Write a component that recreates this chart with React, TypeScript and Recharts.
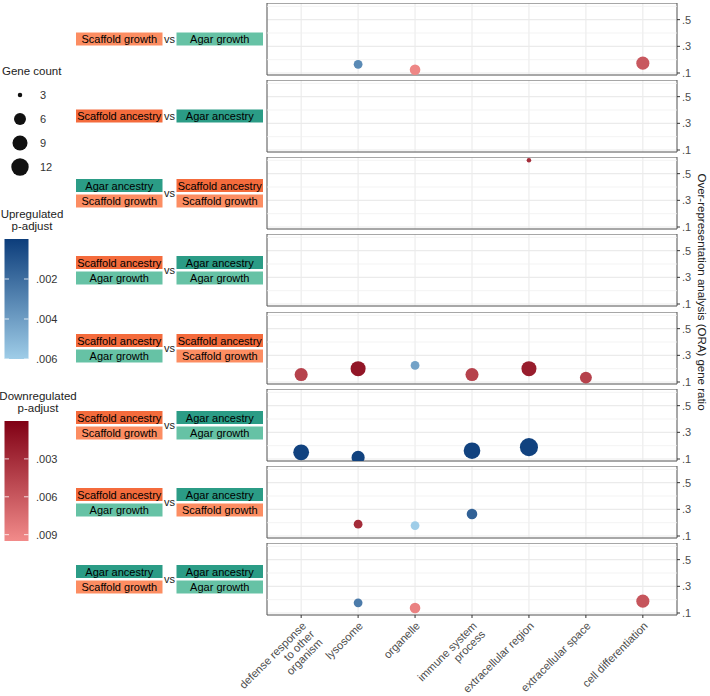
import React from "react";
import {
  CartesianGrid,
  ReferenceArea,
  ReferenceLine,
  Scatter,
  ScatterChart,
  XAxis,
  YAxis,
} from "recharts";

// GO terms on the x axis ("\n" marks a wrapped label line)
const TERMS = [
  "defense response\nto other\norganism",
  "lysosome",
  "organelle",
  "immune system\nprocess",
  "extracellular region",
  "extracellular space",
  "cell differentiation",
];

const RATIO_DOMAIN = [0.085, 0.625];
const RATIO_TICKS = [0.1, 0.3, 0.5];
const RATIO_MINOR = [0.2, 0.4, 0.6];

const COUNT_BREAKS = [3, 6, 9, 12];
const UP_PADJ_TICKS = [0.002, 0.004, 0.006];
const UP_PADJ_MAX = 0.006;
const DOWN_PADJ_TICKS = [0.003, 0.006, 0.009];
const DOWN_PADJ_MAX = 0.0095;

type Dir = "up" | "down";
type Pt = { term: number; ratio: number; count: number; dir: Dir; padj: number };

// one entry per row: [left group, right group]
const COMPARISONS: string[][][] = [
  [["Scaffold growth"], ["Agar growth"]],
  [["Scaffold ancestry"], ["Agar ancestry"]],
  [["Agar ancestry", "Scaffold growth"], ["Scaffold ancestry", "Scaffold growth"]],
  [["Scaffold ancestry", "Agar growth"], ["Agar ancestry", "Agar growth"]],
  [["Scaffold ancestry", "Agar growth"], ["Scaffold ancestry", "Scaffold growth"]],
  [["Scaffold ancestry", "Scaffold growth"], ["Agar ancestry", "Agar growth"]],
  [["Scaffold ancestry", "Agar growth"], ["Agar ancestry", "Scaffold growth"]],
  [["Agar ancestry", "Scaffold growth"], ["Agar ancestry", "Agar growth"]],
];

const ROW1: Pt[] = [
  { term: 1, ratio: 0.165, count: 4, dir: "up", padj: 0.0032 },
  { term: 2, ratio: 0.124, count: 5, dir: "down", padj: 0.0092 },
  { term: 6, ratio: 0.174, count: 7, dir: "down", padj: 0.006 },
];
const ROW2: Pt[] = [];
const ROW3: Pt[] = [{ term: 4, ratio: 0.6, count: 3, dir: "down", padj: 0.003 }];
const ROW4: Pt[] = [];
const ROW5: Pt[] = [
  { term: 0, ratio: 0.156, count: 7, dir: "down", padj: 0.0045 },
  { term: 1, ratio: 0.2, count: 9, dir: "down", padj: 0.0015 },
  { term: 2, ratio: 0.224, count: 4, dir: "up", padj: 0.0042 },
  { term: 3, ratio: 0.156, count: 7, dir: "down", padj: 0.0045 },
  { term: 4, ratio: 0.2, count: 9, dir: "down", padj: 0.002 },
  { term: 5, ratio: 0.133, count: 6, dir: "down", padj: 0.0045 },
];
const ROW6: Pt[] = [
  { term: 0, ratio: 0.15, count: 10, dir: "up", padj: 0.0002 },
  { term: 1, ratio: 0.112, count: 7, dir: "up", padj: 0.0002 },
  { term: 3, ratio: 0.162, count: 11, dir: "up", padj: 0.0002 },
  { term: 4, ratio: 0.189, count: 13, dir: "up", padj: 0.0002 },
];
const ROW7: Pt[] = [
  { term: 1, ratio: 0.189, count: 4, dir: "down", padj: 0.003 },
  { term: 2, ratio: 0.178, count: 4, dir: "up", padj: 0.006 },
  { term: 3, ratio: 0.265, count: 5, dir: "up", padj: 0.0015 },
];
const ROW8: Pt[] = [
  { term: 1, ratio: 0.176, count: 4, dir: "up", padj: 0.0026 },
  { term: 2, ratio: 0.137, count: 5, dir: "down", padj: 0.0088 },
  { term: 6, ratio: 0.189, count: 7, dir: "down", padj: 0.0058 },
];

const ROWS = [ROW1, ROW2, ROW3, ROW4, ROW5, ROW6, ROW7, ROW8];

const GROUP_FILL: Record<string, string> = {
  "Scaffold growth": "#fc8d62",
  "Agar growth": "#66c2a5",
  "Scaffold ancestry": "#f46b3c",
  "Agar ancestry": "#2b9c86",
};

const UP_DARK = "#0c3d7b";
const UP_LIGHT = "#9fcde8";
const DOWN_DARK = "#800014";
const DOWN_LIGHT = "#f28b8a";

const FONT = "'Liberation Sans', Arial, sans-serif";
const W = 710;
const H = 696;
const PLOT_LEFT = 267;
const AXIS_W = 33;
const PANEL_H = 72;
const PANEL_PAD = 7;
const XAXIS_H = 90;

const panelTop = (i: number) => Math.round(3 + i * 77.15);

function mix(a: string, b: string, t: number) {
  const pa = [1, 3, 5].map((k) => parseInt(a.slice(k, k + 2), 16));
  const pb = [1, 3, 5].map((k) => parseInt(b.slice(k, k + 2), 16));
  const c = pa.map((v, k) => Math.round(v + (pb[k] - v) * t));
  return `rgb(${c[0]},${c[1]},${c[2]})`;
}

function pointColor(p: Pt) {
  if (p.dir === "up") return mix(UP_DARK, UP_LIGHT, Math.min(1, p.padj / UP_PADJ_MAX));
  return mix(DOWN_DARK, DOWN_LIGHT, Math.min(1, p.padj / DOWN_PADJ_MAX));
}

// bubble diameter grows with the square root of the gene count
function radius(count: number) {
  return (4.5 + 4.3 * Math.sqrt(Math.max(0, count - 3))) / 2;
}

const Bubble = (props: any) => {
  const { cx, cy, payload } = props;
  if (cx == null || cy == null) return null;
  return <circle cx={cx} cy={cy} r={radius(payload.count)} fill={pointColor(payload)} />;
};

const TermTick = (props: any) => {
  const { x, y, payload } = props;
  const lines = TERMS[payload.value].split("\n");
  return (
    <g transform={`translate(${x},${y}) rotate(-45)`}>
      <text textAnchor="end" fill="#4d4d4d" fontSize={11.2} fontFamily={FONT}>
        {lines.map((l, i) => (
          <tspan key={i} x={0} dy={i === 0 ? "0.71em" : "1.05em"}>
            {l}
          </tspan>
        ))}
      </text>
    </g>
  );
};

const fmtRatio = (v: number) => "." + Math.round(v * 10);
const fmtP = (v: number) => "." + v.toFixed(3).slice(2);

function Panel({ data, index, last }: { data: Pt[]; index: number; last: boolean }) {
  const bottom = last ? 0 : PANEL_PAD;
  const h = PANEL_H + (last ? XAXIS_H : PANEL_PAD);
  return (
    <div style={{ position: "absolute", left: 0, top: panelTop(index) }}>
      <ScatterChart width={W} height={h} margin={{ top: 0, right: 0, bottom, left: PLOT_LEFT }}>
        <CartesianGrid stroke="#ebebeb" strokeWidth={1.1} />
        {RATIO_MINOR.map((v) => (
          <ReferenceLine key={v} y={v} stroke="#f0f0f0" strokeWidth={0.8} />
        ))}
        <XAxis
          type="number"
          dataKey="term"
          domain={[-0.6, 6.6]}
          ticks={[0, 1, 2, 3, 4, 5, 6]}
          allowDataOverflow
          hide={!last}
          height={last ? XAXIS_H : 0}
          axisLine={false}
          tickLine={{ stroke: "#333" }}
          tickSize={3}
          tickMargin={3}
          tick={<TermTick />}
          interval={0}
        />
        <YAxis
          type="number"
          dataKey="ratio"
          orientation="right"
          domain={RATIO_DOMAIN}
          ticks={RATIO_TICKS}
          interval={0}
          allowDataOverflow
          width={AXIS_W}
          axisLine={false}
          tickLine={{ stroke: "#333" }}
          tickSize={3}
          tickMargin={2}
          tickFormatter={fmtRatio}
          tick={{ fill: "#4d4d4d", fontSize: 11, fontFamily: FONT }}
        />
        <ReferenceArea
          x1={-0.6}
          x2={6.6}
          y1={RATIO_DOMAIN[0]}
          y2={RATIO_DOMAIN[1]}
          fill="none"
          stroke="#5a5a5a"
          strokeWidth={1}
        />
        <Scatter data={data} shape={<Bubble />} isAnimationActive={false} />
      </ScatterChart>
    </div>
  );
}

function StripBox({ x, y, label }: { x: number; y: number; label: string }) {
  return (
    <g>
      <rect x={x} y={y} width={86.5} height={13} fill={GROUP_FILL[label]} />
      <text x={x + 43.25} y={y + 10.5} textAnchor="middle" fontSize={11} fill="#000" fontFamily={FONT}>
        {label}
      </text>
    </g>
  );
}

function Strip({ groups, center }: { groups: string[][]; center: number }) {
  const [left, right] = groups;
  const boxY = (n: number, k: number) => (n === 1 ? center - 6.5 : k === 0 ? center - 14 : center + 1.5);
  return (
    <g>
      {left.map((g, k) => (
        <StripBox key={"l" + k} x={76} y={boxY(left.length, k)} label={g} />
      ))}
      <text x={169.5} y={center + 3.5} textAnchor="middle" fontSize={11} fill="#222" fontFamily={FONT}>
        vs
      </text>
      {right.map((g, k) => (
        <StripBox key={"r" + k} x={176.5} y={boxY(right.length, k)} label={g} />
      ))}
    </g>
  );
}

function ColorBar({
  id, top, dark, light, max, ticks, title,
}: {
  id: string; top: number; dark: string; light: string; max: number; ticks: number[]; title: string[];
}) {
  const barH = 120;
  const titleCenter = title[0].length > 11 ? 38 : 32;
  return (
    <g>
      <defs>
        <linearGradient id={id} x1="0" y1="0" x2="0" y2="1">
          <stop offset="0" stopColor={dark} />
          <stop offset="1" stopColor={light} />
        </linearGradient>
      </defs>
      {title.map((t, i) => (
        <text
          key={t}
          x={titleCenter}
          y={top - 21 + i * 12}
          textAnchor="middle"
          fontSize={11.5}
          fill="#222"
          fontFamily={FONT}
        >
          {t}
        </text>
      ))}
      <rect x={4.5} y={top} width={24} height={barH} fill={`url(#${id})`} />
      {ticks.map((v) => {
        const y = top + (v / max) * barH;
        return (
          <g key={v}>
            <line x1={4.5} x2={9} y1={y} y2={y} stroke="#fff" strokeOpacity={0.8} />
            <line x1={24} x2={28.5} y1={y} y2={y} stroke="#fff" strokeOpacity={0.8} />
            <text x={36} y={y + 4} fontSize={11} fill="#333" fontFamily={FONT}>
              {fmtP(v)}
            </text>
          </g>
        );
      })}
    </g>
  );
}

export default function App() {
  return (
    <div
      style={{
        position: "absolute",
        left: 0,
        top: 0,
        width: W,
        height: H,
        background: "#fff",
        fontFamily: FONT,
        overflow: "hidden",
      }}
    >
      {ROWS.map((data, i) => (
        <Panel key={i} data={data} index={i} last={i === ROWS.length - 1} />
      ))}
      <svg width={W} height={H} style={{ position: "absolute", left: 0, top: 0, pointerEvents: "none" }}>
        {COMPARISONS.map((groups, i) => (
          <Strip key={i} groups={groups} center={panelTop(i) + PANEL_H / 2} />
        ))}

        <text x={2} y={75} fontSize={11.5} fill="#222" fontFamily={FONT}>
          Gene count
        </text>
        {COUNT_BREAKS.map((c, i) => (
          <g key={c}>
            <circle cx={20} cy={95 + i * 24} r={radius(c)} fill="#111" />
            <text x={40} y={99 + i * 24} fontSize={11} fill="#333" fontFamily={FONT}>
              {c}
            </text>
          </g>
        ))}

        <ColorBar
          id="upGrad"
          top={239}
          dark={UP_DARK}
          light={UP_LIGHT}
          max={UP_PADJ_MAX}
          ticks={UP_PADJ_TICKS}
          title={["Upregulated", "p-adjust"]}
        />
        <ColorBar
          id="downGrad"
          top={421}
          dark={DOWN_DARK}
          light={DOWN_LIGHT}
          max={DOWN_PADJ_MAX}
          ticks={DOWN_PADJ_TICKS}
          title={["Downregulated", "p-adjust"]}
        />

        <text
          transform="translate(698,292) rotate(90)"
          textAnchor="middle"
          fontSize={11.5}
          fill="#222"
          fontFamily={FONT}
        >
          Over-representation analysis (ORA) gene ratio
        </text>
      </svg>
    </div>
  );
}
